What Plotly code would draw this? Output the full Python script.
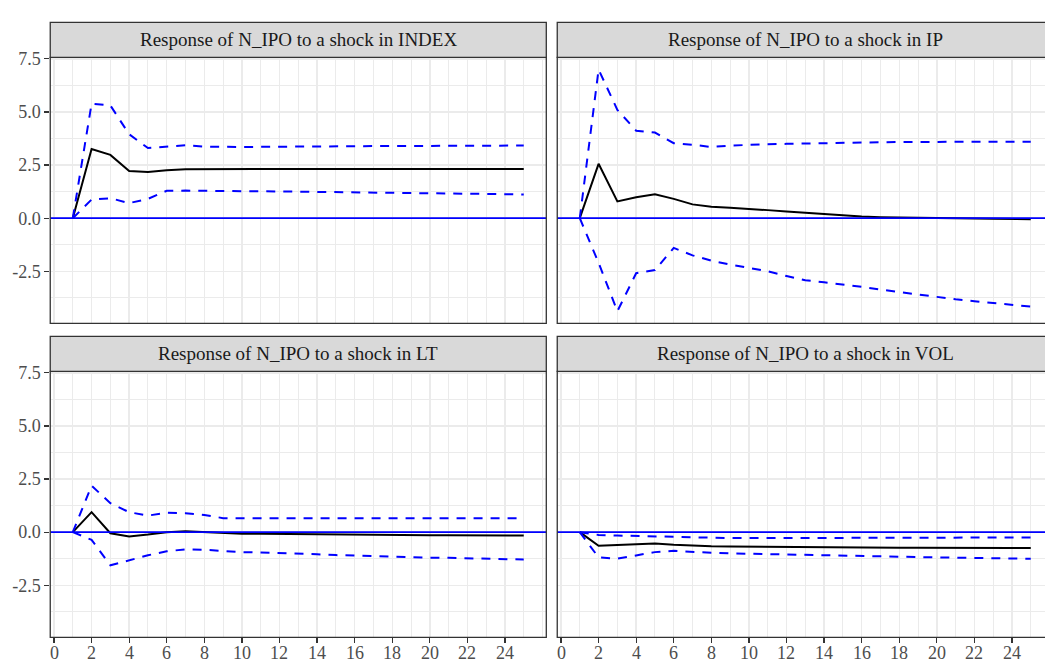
import plotly.graph_objects as go

# ---------------- data ----------------
horizon = list(range(1, 26))

panel_titles = [
    "Response of N_IPO to a shock in INDEX",
    "Response of N_IPO to a shock in IP",
    "Response of N_IPO to a shock in LT",
    "Response of N_IPO to a shock in VOL",
]

index_irf = [0, 3.26, 2.98, 2.22, 2.18, 2.26, 2.30, 2.31, 2.32, 2.32, 2.32, 2.32, 2.32,
             2.32, 2.32, 2.32, 2.32, 2.32, 2.32, 2.32, 2.32, 2.32, 2.32, 2.32, 2.32]
index_upper = [0, 5.39, 5.31, 3.95, 3.30, 3.38, 3.43, 3.37, 3.35, 3.35, 3.36, 3.37, 3.37,
               3.38, 3.38, 3.39, 3.39, 3.40, 3.40, 3.40, 3.41, 3.41, 3.41, 3.42, 3.42]
index_lower = [0, 0.88, 0.94, 0.71, 0.91, 1.29, 1.30, 1.28, 1.27, 1.27, 1.27, 1.26, 1.25,
               1.24, 1.23, 1.22, 1.21, 1.20, 1.19, 1.18, 1.17, 1.16, 1.15, 1.13, 1.12]

ip_irf = [0, 2.56, 0.79, 0.99, 1.13, 0.91, 0.65, 0.54, 0.49, 0.45, 0.38, 0.31, 0.25,
          0.18, 0.13, 0.08, 0.05, 0.03, 0.01, 0.0, -0.01, -0.02, -0.03, -0.04, -0.05]
ip_upper = [0, 7.0, 5.1, 4.12, 4.03, 3.53, 3.46, 3.35, 3.42, 3.46, 3.48, 3.50, 3.52,
            3.54, 3.56, 3.57, 3.58, 3.59, 3.59, 3.60, 3.60, 3.60, 3.60, 3.60, 3.60]
ip_lower = [0, -2.1, -4.38, -2.59, -2.44, -1.40, -1.75, -2.00, -2.18, -2.35, -2.50, -2.72, -2.92,
            -3.02, -3.12, -3.23, -3.36, -3.48, -3.60, -3.71, -3.82, -3.91, -3.99, -4.08, -4.16]

lt_irf = [0, 0.94, -0.05, -0.20, -0.11, 0.0, 0.04, 0.0, -0.05, -0.07, -0.08, -0.09, -0.10,
          -0.10, -0.11, -0.12, -0.12, -0.13, -0.13, -0.14, -0.14, -0.15, -0.15, -0.16, -0.16]
lt_upper = [0, 2.19, 1.36, 0.94, 0.78, 0.91, 0.89, 0.81, 0.66, 0.65, 0.65, 0.65, 0.65,
            0.65, 0.65, 0.65, 0.65, 0.65, 0.65, 0.65, 0.65, 0.65, 0.65, 0.65, 0.65]
lt_lower = [0, -0.36, -1.56, -1.33, -1.09, -0.90, -0.81, -0.83, -0.90, -0.94, -0.96, -0.98, -1.00,
            -1.04, -1.08, -1.11, -1.14, -1.16, -1.18, -1.20, -1.21, -1.23, -1.25, -1.27, -1.29]

vol_irf = [0, -0.64, -0.61, -0.56, -0.53, -0.59, -0.64, -0.66, -0.67, -0.68, -0.69, -0.70, -0.70,
           -0.71, -0.71, -0.72, -0.72, -0.73, -0.73, -0.74, -0.74, -0.74, -0.75, -0.75, -0.75]
vol_upper = [0, -0.13, -0.16, -0.18, -0.20, -0.23, -0.27, -0.28, -0.28, -0.28, -0.28, -0.27, -0.27,
             -0.27, -0.27, -0.27, -0.26, -0.26, -0.26, -0.26, -0.26, -0.25, -0.25, -0.25, -0.25]
vol_lower = [0, -1.19, -1.25, -1.09, -0.94, -0.88, -0.94, -0.97, -1.00, -1.02, -1.04, -1.06, -1.08,
             -1.10, -1.12, -1.13, -1.15, -1.16, -1.18, -1.19, -1.20, -1.22, -1.23, -1.24, -1.25]

x_tickvals = list(range(0, 25, 2))
x_ticktext = [str(v) for v in x_tickvals]
y_tickvals = [-2.5, 0.0, 2.5, 5.0, 7.5]
y_ticktext = ["-2.5", "0.0", "2.5", "5.0", "7.5"]

# ---------------- layout geometry ----------------
W, H = 1045, 662
FONT = "Liberation Serif"
BORDER = "#333333"
GRID = "#EBEBEB"
TICKCOL = "#4D4D4D"
DASH = "9px,8px"
UNIT = 18.79  # pixels per horizon step


def px_x(p):
    return p / W


def px_y(p):
    return 1 - p / H


X0_LEFT = 54.0    # pixel of horizon 0 in left panels
X0_RIGHT = 561.0  # pixel of horizon 0 in right panels
XMIN = -0.2

left_x = (X0_LEFT + XMIN * UNIT, X0_LEFT + 26.2 * UNIT)
right_x = (X0_RIGHT + XMIN * UNIT, 1045.0)
top_y = (50.0, 319.2)
bot_y = (367.8, 637.0)
strip_h = 35.5
full_panel_w = 26.4 * UNIT

x_range_left = [XMIN, 26.2]
x_range_right = [XMIN, (1045.0 - X0_RIGHT) / UNIT]
y_range = [-4.95, 7.57]

panels = [
    (left_x, X0_LEFT, top_y, x_range_left, index_irf, index_upper, index_lower, True, False),
    (right_x, X0_RIGHT, top_y, x_range_right, ip_irf, ip_upper, ip_lower, False, False),
    (left_x, X0_LEFT, bot_y, x_range_left, lt_irf, lt_upper, lt_lower, True, True),
    (right_x, X0_RIGHT, bot_y, x_range_right, vol_irf, vol_upper, vol_lower, False, True),
]

fig = go.Figure()
layout = dict(
    width=W, height=H,
    margin=dict(l=0, r=0, t=0, b=0),
    paper_bgcolor="white", plot_bgcolor="white",
    showlegend=False,
    font=dict(family=FONT),
)
shapes = []
annotations = []

for i, (xb, x0px, yb, xr, irf, up, lo, show_y, show_x) in enumerate(panels):
    n = i + 1
    xa = "xaxis" if n == 1 else f"xaxis{n}"
    ya = "yaxis" if n == 1 else f"yaxis{n}"
    xref = "x" if n == 1 else f"x{n}"
    yref = "y" if n == 1 else f"y{n}"

    is_right = xb[1] >= W
    layout[xa] = dict(
        domain=[px_x(xb[0]), min(1.0, px_x(xb[1]))],
        anchor=yref,
        range=xr,
        tickmode="array", tickvals=x_tickvals,
        showticklabels=False,
        ticks="outside" if show_x else "",
        ticklen=5, tickwidth=1.2, tickcolor=BORDER,
        showgrid=True, gridcolor=GRID, gridwidth=1.4,
        minor=dict(dtick=1, tick0=0, showgrid=True, gridcolor=GRID, gridwidth=1.0),
        zeroline=False,
        showline=False,
        fixedrange=True,
    )
    layout[ya] = dict(
        domain=[px_y(yb[1]), px_y(yb[0])],
        anchor=xref,
        range=y_range,
        tickmode="array", tickvals=y_tickvals, ticktext=y_ticktext,
        showticklabels=show_y,
        ticklabeloverflow="allow",
        ticks="outside" if show_y else "",
        ticklen=5, tickwidth=1.2, tickcolor=BORDER,
        tickfont=dict(family=FONT, size=18, color=TICKCOL),
        showgrid=True, gridcolor=GRID, gridwidth=1.4,
        minor=dict(dtick=1.25, tick0=0, showgrid=True, gridcolor=GRID, gridwidth=1.0),
        zeroline=False,
        showline=False,
        fixedrange=True,
    )

    fig.add_trace(go.Scatter(x=horizon, y=irf, mode="lines", xaxis=xref, yaxis=yref,
                             line=dict(color="black", width=2)))
    fig.add_trace(go.Scatter(x=horizon, y=lo, mode="lines", xaxis=xref, yaxis=yref,
                             line=dict(color="#0000FF", width=2, dash=DASH)))
    fig.add_trace(go.Scatter(x=horizon, y=up, mode="lines", xaxis=xref, yaxis=yref,
                             line=dict(color="#0000FF", width=2, dash=DASH)))

    px_left = xb[0]
    px_right = xb[1] if not is_right else 1060.0
    # zero reference line across the whole panel
    shapes.append(dict(type="line", xref="paper", yref=yref,
                       x0=px_x(px_left), x1=min(1.0, px_x(px_right)), y0=0, y1=0,
                       line=dict(color="#0000FF", width=1.8), layer="above"))
    # panel border
    shapes.append(dict(type="rect", xref="paper", yref="paper",
                       x0=px_x(px_left), x1=px_x(px_right), y0=px_y(yb[1]), y1=px_y(yb[0]),
                       line=dict(color=BORDER, width=1.3), fillcolor="rgba(0,0,0,0)", layer="above"))

    # facet strip
    sy0 = px_y(yb[0])
    sy1 = px_y(yb[0] - strip_h)
    shapes.append(dict(type="rect", xref="paper", yref="paper", x0=px_x(px_left), x1=px_x(px_right),
                       y0=sy0, y1=sy1,
                       fillcolor="#D9D9D9", line=dict(color=BORDER, width=1.3), layer="above"))
    cx = px_left + full_panel_w / 2
    annotations.append(dict(text=panel_titles[i], xref="paper", yref="paper",
                            x=px_x(cx), y=(sy0 + sy1) / 2, xanchor="center", yanchor="middle",
                            showarrow=False, font=dict(family=FONT, size=19, color="#1A1A1A")))

    # x tick labels for the bottom row, placed with the same horizon->pixel scale as the axis
    if show_x:
        for v, t in zip(x_tickvals, x_ticktext):
            annotations.append(dict(text=t, xref="paper", yref="paper",
                                    x=px_x(x0px + v * UNIT), y=px_y(yb[1] + 16),
                                    xanchor="center", yanchor="middle", showarrow=False,
                                    font=dict(family=FONT, size=18, color=TICKCOL)))

layout["shapes"] = shapes
layout["annotations"] = annotations
fig.update_layout(**layout)
fig.write_html("out.html", config={"displayModeBar": False, "staticPlot": True},
               post_script="document.body.style.margin='0';")
